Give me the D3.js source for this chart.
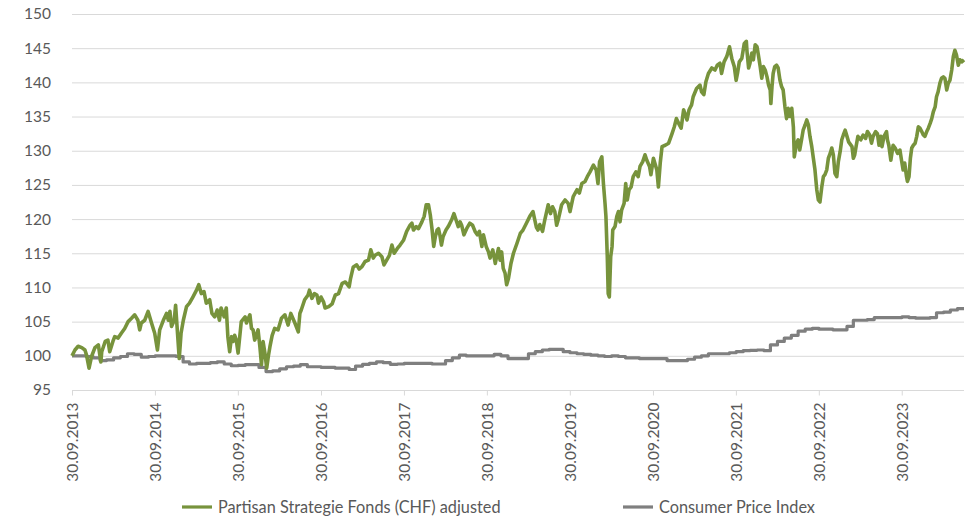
<!DOCTYPE html>
<html>
<head>
<meta charset="utf-8">
<script src="https://cdn.jsdelivr.net/npm/d3@7"></script>
<style>
  body { margin: 0; background: #fff; }
  svg { display: block; font-family: Lato, "Open Sans", sans-serif; }
</style>
</head>
<body>
<div id="chart"></div>
<script>
// series values (indexed, 30.09.2013 = 100)
const fundData = [
  ["2013-09-30",100.0],["2013-10-13",100.85],["2013-10-27",101.4],["2013-11-12",101.2],["2013-11-26",100.85],
  ["2013-12-03",100.1],["2013-12-14",98.2],["2013-12-25",99.9],["2014-01-09",101.2],["2014-01-24",101.6],
  ["2014-02-04",99.1],["2014-02-08",100.6],["2014-02-23",102.1],["2014-03-07",102.3],["2014-03-15",100.6],
  ["2014-03-29",102.1],["2014-04-06",102.8],["2014-04-21",102.6],["2014-05-05",103.3],["2014-05-20",104.0],
  ["2014-06-04",105.0],["2014-06-19",105.5],["2014-07-03",106.0],["2014-07-17",105.2],["2014-07-25",103.8],
  ["2014-08-01",104.8],["2014-08-16",105.2],["2014-08-31",106.5],["2014-09-15",104.8],["2014-09-29",103.3],
  ["2014-10-11",100.85],["2014-10-21",103.8],["2014-11-06",105.2],["2014-11-20",106.2],["2014-11-28",105.2],
  ["2014-12-05",106.5],["2014-12-12",104.3],["2014-12-24",105.2],["2014-12-30",107.4],["2015-01-15",99.6],
  ["2015-01-23",103.3],["2015-02-02",105.2],["2015-02-16",107.2],["2015-03-01",107.7],["2015-03-16",108.6],
  ["2015-04-01",109.6],["2015-04-11",110.4],["2015-04-22",109.1],["2015-05-04",109.4],["2015-05-14",107.7],
  ["2015-05-29",108.2],["2015-06-08",106.2],["2015-06-20",105.7],["2015-07-01",106.7],["2015-07-11",105.2],
  ["2015-07-18",107.0],["2015-08-01",105.7],["2015-08-10",107.0],["2015-08-17",102.8],["2015-08-25",100.6],
  ["2015-09-02",102.8],["2015-09-09",102.1],["2015-09-16",103.0],["2015-09-23",102.3],["2015-10-01",100.4],
  ["2015-10-15",105.0],["2015-11-01",105.7],["2015-11-07",104.8],["2015-11-22",106.0],["2015-11-29",104.0],
  ["2015-12-06",103.8],["2015-12-13",102.3],["2015-12-28",103.8],["2016-01-05",101.3],["2016-01-12",98.7],
  ["2016-01-19",102.1],["2016-01-27",100.4],["2016-02-04",98.2],["2016-02-11",99.9],["2016-02-18",101.3],
  ["2016-02-28",103.0],["2016-03-10",104.0],["2016-03-25",103.8],["2016-04-09",105.5],["2016-04-24",106.0],
  ["2016-05-08",104.5],["2016-05-20",106.2],["2016-06-07",104.8],["2016-06-22",103.5],["2016-06-29",106.2],
  ["2016-07-05",106.7],["2016-07-20",108.2],["2016-08-04",108.9],["2016-08-10",109.6],["2016-08-21",108.4],
  ["2016-09-01",109.1],["2016-09-12",108.9],["2016-09-19",107.7],["2016-09-30",108.6],["2016-10-11",107.9],
  ["2016-10-18",107.0],["2016-11-03",107.2],["2016-11-18",107.6],["2016-12-02",108.9],["2016-12-16",109.1],
  ["2017-01-01",110.6],["2017-01-15",110.8],["2017-02-01",110.1],["2017-02-07",111.3],["2017-02-19",113.0],
  ["2017-03-06",113.3],["2017-03-17",112.7],["2017-03-28",113.0],["2017-04-12",113.8],["2017-04-27",114.0],
  ["2017-05-07",115.5],["2017-05-18",114.3],["2017-05-26",114.7],["2017-06-10",115.0],["2017-06-25",114.5],
  ["2017-07-04",113.3],["2017-07-16",114.0],["2017-07-28",114.7],["2017-08-08",116.2],["2017-08-18",115.0],
  ["2017-09-01",115.7],["2017-09-13",116.2],["2017-09-28",116.9],["2017-10-12",118.2],["2017-10-27",119.1],
  ["2017-11-04",119.4],["2017-11-11",118.4],["2017-11-23",118.9],["2017-12-03",118.6],["2017-12-18",119.6],
  ["2017-12-28",120.4],["2018-01-06",122.1],["2018-01-16",122.1],["2018-01-24",120.6],["2018-02-01",118.4],
  ["2018-02-08",116.0],["2018-02-15",117.4],["2018-02-23",118.4],["2018-03-01",118.6],["2018-03-07",117.7],
  ["2018-03-14",116.2],["2018-03-21",117.4],["2018-04-03",118.4],["2018-04-13",118.9],["2018-04-28",119.9],
  ["2018-05-08",120.8],["2018-05-17",119.9],["2018-05-27",118.9],["2018-06-04",119.6],["2018-06-11",119.1],
  ["2018-06-21",117.7],["2018-07-03",118.6],["2018-07-17",119.4],["2018-07-29",119.1],["2018-08-09",118.2],
  ["2018-08-19",117.7],["2018-08-28",118.2],["2018-09-08",116.0],["2018-09-15",117.7],["2018-09-27",116.0],
  ["2018-10-07",115.2],["2018-10-14",114.3],["2018-10-26",115.5],["2018-11-06",113.5],["2018-11-13",114.7],
  ["2018-11-20",115.7],["2018-11-27",114.0],["2018-12-04",115.2],["2018-12-11",112.8],["2018-12-19",112.1],
  ["2018-12-26",110.4],["2019-01-03",111.3],["2019-01-14",113.5],["2019-01-25",115.0],["2019-02-10",116.5],
  ["2019-02-24",117.9],["2019-03-08",118.4],["2019-03-23",119.4],["2019-04-07",120.4],["2019-04-21",121.1],
  ["2019-05-06",118.8],["2019-05-13",118.4],["2019-05-21",119.2],["2019-06-02",118.2],["2019-06-12",119.9],
  ["2019-06-27",122.1],["2019-07-07",120.8],["2019-07-16",121.8],["2019-07-26",121.1],["2019-08-03",119.1],
  ["2019-08-10",119.9],["2019-08-25",122.1],["2019-09-09",122.8],["2019-09-23",122.3],["2019-10-01",121.1],
  ["2019-10-15",123.3],["2019-11-01",124.3],["2019-11-11",123.8],["2019-11-22",125.2],["2019-12-06",125.5],
  ["2019-12-16",126.2],["2019-12-28",126.9],["2020-01-12",127.9],["2020-01-24",127.2],["2020-02-01",125.2],
  ["2020-02-08",128.4],["2020-02-18",129.1],["2020-02-25",125.2],["2020-03-03",122.3],["2020-03-07",120.4],
  ["2020-03-13",114.5],["2020-03-17",109.1],["2020-03-22",108.6],["2020-03-28",114.5],["2020-04-03",116.0],
  ["2020-04-06",118.4],["2020-04-16",118.9],["2020-04-24",120.4],["2020-05-01",121.1],["2020-05-08",119.6],
  ["2020-05-15",121.3],["2020-05-26",122.3],["2020-06-02",125.2],["2020-06-09",122.8],["2020-06-17",124.3],
  ["2020-06-26",124.7],["2020-07-05",126.2],["2020-07-17",126.9],["2020-07-27",126.2],["2020-08-04",127.7],
  ["2020-08-16",128.4],["2020-08-26",129.4],["2020-09-03",128.6],["2020-09-15",127.7],["2020-09-21",126.5],
  ["2020-10-02",128.9],["2020-10-17",127.2],["2020-10-24",124.7],["2020-11-01",128.2],["2020-11-09",130.6],
  ["2020-11-23",130.8],["2020-12-08",131.1],["2020-12-23",132.5],["2021-01-02",133.5],["2021-01-11",134.7],
  ["2021-01-21",134.0],["2021-02-01",133.3],["2021-02-12",136.0],["2021-02-20",135.2],["2021-02-27",134.5],
  ["2021-03-08",136.0],["2021-03-19",136.7],["2021-03-26",137.9],["2021-04-10",139.1],["2021-04-25",139.6],
  ["2021-05-02",138.6],["2021-05-12",138.2],["2021-05-21",140.1],["2021-06-01",141.3],["2021-06-16",142.1],
  ["2021-06-30",141.8],["2021-07-10",142.5],["2021-07-22",142.8],["2021-07-29",141.3],["2021-08-09",143.0],
  ["2021-08-21",143.8],["2021-09-02",145.2],["2021-09-12",143.5],["2021-09-23",142.3],["2021-10-01",140.3],
  ["2021-10-07",141.3],["2021-10-15",143.0],["2021-10-26",143.5],["2021-11-06",145.7],["2021-11-15",146.0],
  ["2021-11-18",144.5],["2021-11-25",142.1],["2021-12-01",142.8],["2021-12-09",144.3],["2021-12-16",143.3],
  ["2021-12-24",145.5],["2022-01-01",145.2],["2022-01-07",144.0],["2022-01-15",142.3],["2022-01-22",140.6],
  ["2022-01-29",142.3],["2022-02-06",141.8],["2022-02-14",140.8],["2022-02-21",139.6],["2022-02-28",138.9],
  ["2022-03-03",136.9],["2022-03-08",139.4],["2022-03-13",141.3],["2022-03-20",142.3],["2022-03-28",142.5],
  ["2022-04-04",142.1],["2022-04-12",140.3],["2022-04-19",139.4],["2022-04-26",138.9],["2022-05-04",136.4],
  ["2022-05-11",134.7],["2022-05-18",136.2],["2022-05-26",135.0],["2022-06-03",136.2],["2022-06-10",133.5],
  ["2022-06-14",129.1],["2022-06-24",131.1],["2022-07-01",131.6],["2022-07-08",130.1],["2022-07-16",131.6],
  ["2022-07-23",133.0],["2022-08-01",133.8],["2022-08-08",134.5],["2022-08-15",133.8],["2022-08-22",132.1],
  ["2022-08-30",130.6],["2022-09-06",128.9],["2022-09-13",127.2],["2022-09-21",124.3],["2022-09-28",122.8],
  ["2022-10-05",122.5],["2022-10-13",124.7],["2022-10-20",126.2],["2022-10-27",126.5],["2022-11-04",127.2],
  ["2022-11-11",128.9],["2022-11-19",129.6],["2022-11-26",130.4],["2022-12-03",129.4],["2022-12-10",126.7],
  ["2022-12-18",126.2],["2022-12-25",128.4],["2023-01-02",129.9],["2023-01-09",131.6],["2023-01-16",132.3],
  ["2023-01-24",133.0],["2023-02-01",132.1],["2023-02-08",131.3],["2023-02-23",130.6],["2023-03-01",128.9],
  ["2023-03-07",129.4],["2023-03-14",130.8],["2023-03-21",132.1],["2023-04-03",131.6],["2023-04-13",132.3],
  ["2023-04-24",131.8],["2023-05-02",132.8],["2023-05-12",132.3],["2023-05-20",131.1],["2023-05-27",132.1],
  ["2023-06-07",132.8],["2023-06-15",132.5],["2023-06-22",130.8],["2023-06-30",132.1],["2023-07-05",130.6],
  ["2023-07-14",132.1],["2023-07-25",132.8],["2023-07-29",131.6],["2023-08-04",130.8],["2023-08-13",128.6],
  ["2023-08-23",130.8],["2023-09-01",130.4],["2023-09-12",129.6],["2023-09-22",130.1],["2023-09-29",128.6],
  ["2023-10-06",127.2],["2023-10-13",128.2],["2023-10-21",126.2],["2023-10-25",125.5],["2023-11-01",126.2],
  ["2023-11-07",128.9],["2023-11-13",130.4],["2023-11-20",130.8],["2023-11-28",131.1],["2023-12-05",132.1],
  ["2023-12-12",133.5],["2023-12-19",133.3],["2023-12-27",132.8],["2024-01-03",132.3],["2024-01-10",132.1],
  ["2024-01-18",132.8],["2024-01-25",133.3],["2024-02-02",134.0],["2024-02-09",134.7],["2024-02-16",135.7],
  ["2024-02-24",136.4],["2024-03-01",137.9],["2024-03-08",138.6],["2024-03-16",139.9],["2024-03-23",140.6],
  ["2024-03-31",140.8],["2024-04-07",140.6],["2024-04-15",138.9],["2024-04-22",139.9],["2024-04-29",140.3],
  ["2024-05-07",141.8],["2024-05-14",143.8],["2024-05-21",144.7],["2024-05-28",144.0],["2024-06-05",142.5],
  ["2024-06-12",143.3],["2024-06-20",143.0],["2024-06-30",143.3]
];

// monthly CPI, stepped
const cpiData = [
  ["2013-09-30",100.0],["2013-11-01",100.0],["2013-12-01",99.9],["2014-01-01",99.7],["2014-02-01",99.3],
  ["2014-03-01",99.4],["2014-04-01",99.7],["2014-05-01",99.9],["2014-06-01",100.3],["2014-07-01",100.2],
  ["2014-08-01",99.8],["2014-09-01",99.9],["2014-10-01",100.0],["2014-11-01",100.0],["2014-12-01",100.0],
  ["2015-01-01",99.9],["2015-02-01",99.1],["2015-03-01",98.8],["2015-04-01",98.9],["2015-05-01",98.9],
  ["2015-06-01",99.0],["2015-07-01",99.1],["2015-08-01",98.8],["2015-09-01",98.55],["2015-10-01",98.6],
  ["2015-11-01",98.7],["2015-12-01",98.7],["2016-01-01",98.3],["2016-02-01",97.7],["2016-03-01",97.8],
  ["2016-04-01",98.1],["2016-05-01",98.4],["2016-06-01",98.5],["2016-07-01",98.7],["2016-08-01",98.4],
  ["2016-09-01",98.4],["2016-10-01",98.3],["2016-11-01",98.3],["2016-12-01",98.2],["2017-01-01",98.2],
  ["2017-02-01",98.0],["2017-03-01",98.5],["2017-04-01",98.75],["2017-05-01",98.9],["2017-06-01",99.1],
  ["2017-07-01",99.0],["2017-08-01",98.75],["2017-09-01",98.8],["2017-10-01",98.9],["2017-11-01",98.9],
  ["2017-12-01",98.9],["2018-01-01",98.9],["2018-02-01",98.8],["2018-03-01",98.8],["2018-04-01",99.3],
  ["2018-05-01",99.7],["2018-06-01",100.1],["2018-07-01",100.0],["2018-08-01",100.0],["2018-09-01",100.0],
  ["2018-10-01",100.0],["2018-11-01",100.2],["2018-12-01",100.0],["2019-01-01",99.6],["2019-02-01",99.6],
  ["2019-03-01",99.6],["2019-04-01",100.3],["2019-05-01",100.6],["2019-06-01",100.85],["2019-07-01",100.95],
  ["2019-08-01",100.95],["2019-09-01",100.6],["2019-10-01",100.45],["2019-11-01",100.3],["2019-12-01",100.2],
  ["2020-01-01",100.1],["2020-02-01",100.0],["2020-03-01",99.9],["2020-04-01",100.0],["2020-05-01",99.9],
  ["2020-06-01",99.7],["2020-07-01",99.7],["2020-08-01",99.6],["2020-09-01",99.6],["2020-10-01",99.6],
  ["2020-11-01",99.6],["2020-12-01",99.3],["2021-01-01",99.3],["2021-02-01",99.3],["2021-03-01",99.5],
  ["2021-04-01",99.8],["2021-05-01",100.0],["2021-06-01",100.3],["2021-07-01",100.3],["2021-08-01",100.3],
  ["2021-09-01",100.45],["2021-10-01",100.6],["2021-11-01",100.75],["2021-12-01",100.8],["2022-01-01",100.85],
  ["2022-02-01",100.75],["2022-03-01",101.6],["2022-04-01",102.1],["2022-05-01",102.6],["2022-06-01",103.0],
  ["2022-07-01",103.6],["2022-08-01",103.9],["2022-09-01",104.0],["2022-10-01",103.9],["2022-11-01",103.9],
  ["2022-12-01",103.8],["2023-01-01",103.8],["2023-02-01",104.3],["2023-03-01",105.2],["2023-04-01",105.2],
  ["2023-05-01",105.3],["2023-06-01",105.6],["2023-07-01",105.6],["2023-08-01",105.6],["2023-09-01",105.6],
  ["2023-10-01",105.7],["2023-11-01",105.6],["2023-12-01",105.5],["2024-01-01",105.5],["2024-02-01",105.6],
  ["2024-03-01",106.3],["2024-04-01",106.4],["2024-05-01",106.7],["2024-06-01",106.9],["2024-06-30",106.9]
];

const xTickDates = ["2013-09-30","2014-09-30","2015-09-30","2016-09-30","2017-09-30","2018-09-30",
  "2019-09-30","2020-09-30","2021-09-30","2022-09-30","2023-09-30"];
const yTicks = [95,100,105,110,115,120,125,130,135,140,145,150];
const seriesNames = ["Partisan Strategie Fonds (CHF) adjusted", "Consumer Price Index"];
const seriesColors = ["#77933c", "#7f7f7f"];

let width = 970;
let height = 516;
let margin = { top: 14, right: 6, bottom: 126, left: 72 };
let plotWidth = width - margin.left - margin.right;
let plotHeight = height - margin.top - margin.bottom;

let parse = d3.timeParse("%Y-%m-%d");
let fund = fundData.map((d) => ({ date: parse(d[0]), value: d[1] }));
let cpi = cpiData.map((d) => ({ date: parse(d[0]), value: d[1] }));

let svg = d3.select("#chart").append("svg")
  .attr("width", width)
  .attr("height", height);

let plot = svg.append("g")
  .attr("transform", `translate(${margin.left},${margin.top})`);

let xScale = d3.scaleTime()
  .domain([parse("2013-09-30"), parse("2024-06-30")])
  .range([0, plotWidth]);
let yScale = d3.scaleLinear().domain([95, 150]).range([plotHeight, 0]);

// horizontal grid
plot.append("g")
  .selectAll("line")
  .data(yTicks.filter((t) => t > 95))
  .enter()
  .append("line")
  .attr("x1", 0)
  .attr("x2", plotWidth)
  .attr("y1", (d) => yScale(d) + 0.5)
  .attr("y2", (d) => yScale(d) + 0.5)
  .attr("stroke", "#d9d9d9")
  .attr("stroke-width", 1);

// y axis labels
let yAxis = d3.axisLeft(yScale).tickValues(yTicks).tickSize(0).tickPadding(21);
let yAxisGroup = plot.append("g").call(yAxis);
yAxisGroup.select(".domain").remove();
yAxisGroup.selectAll("text")
  .attr("fill", "#595959")
  .style("font-size", "15.5px")
  .style("font-family", "Lato, sans-serif");

// x axis
let xAxis = d3.axisBottom(xScale)
  .tickValues(xTickDates.map(parse))
  .tickSize(5)
  .tickFormat(d3.timeFormat("%d.%m.%Y"));
let xAxisGroup = plot.append("g")
  .attr("transform", `translate(0,${plotHeight + 0.5})`)
  .call(xAxis);
xAxisGroup.select(".domain").attr("stroke", "#d9d9d9").attr("d", `M0,0H${plotWidth}`);
xAxisGroup.selectAll(".tick line").attr("stroke", "#d9d9d9");
xAxisGroup.selectAll("text")
  .attr("fill", "#595959")
  .style("font-size", "15.5px")
  .style("font-family", "Lato, sans-serif")
  .attr("transform", "rotate(-90)")
  .attr("text-anchor", "end")
  .attr("x", -12)
  .attr("y", 0)
  .attr("dy", "0.35em");

// lines
let line = d3.line().x((d) => xScale(d.date)).y((d) => yScale(d.value));
let stepLine = d3.line().curve(d3.curveStepAfter).x((d) => xScale(d.date)).y((d) => yScale(d.value));

plot.append("path")
  .datum(cpi)
  .attr("d", stepLine)
  .attr("fill", "none")
  .attr("stroke", seriesColors[1])
  .attr("stroke-width", 3.2)
  .attr("stroke-linejoin", "round");

plot.append("path")
  .datum(fund)
  .attr("d", line)
  .attr("fill", "none")
  .attr("stroke", seriesColors[0])
  .attr("stroke-width", 3.6)
  .attr("stroke-linejoin", "round");

// legend
let legendX = [182, 623];
let legend = svg.append("g").attr("transform", "translate(0,507)");
let items = legend.selectAll("g")
  .data(seriesNames)
  .enter()
  .append("g")
  .attr("transform", (d, i) => `translate(${legendX[i]},0)`);
items.append("line")
  .attr("x1", 0).attr("x2", 30)
  .attr("stroke", (d, i) => seriesColors[i])
  .attr("stroke-width", 3.2);
items.append("text")
  .attr("x", 36)
  .attr("dy", "0.35em")
  .attr("fill", "#595959")
  .style("font-size", "16.3px")
  .text((d) => d);
</script>
</body>
</html>
